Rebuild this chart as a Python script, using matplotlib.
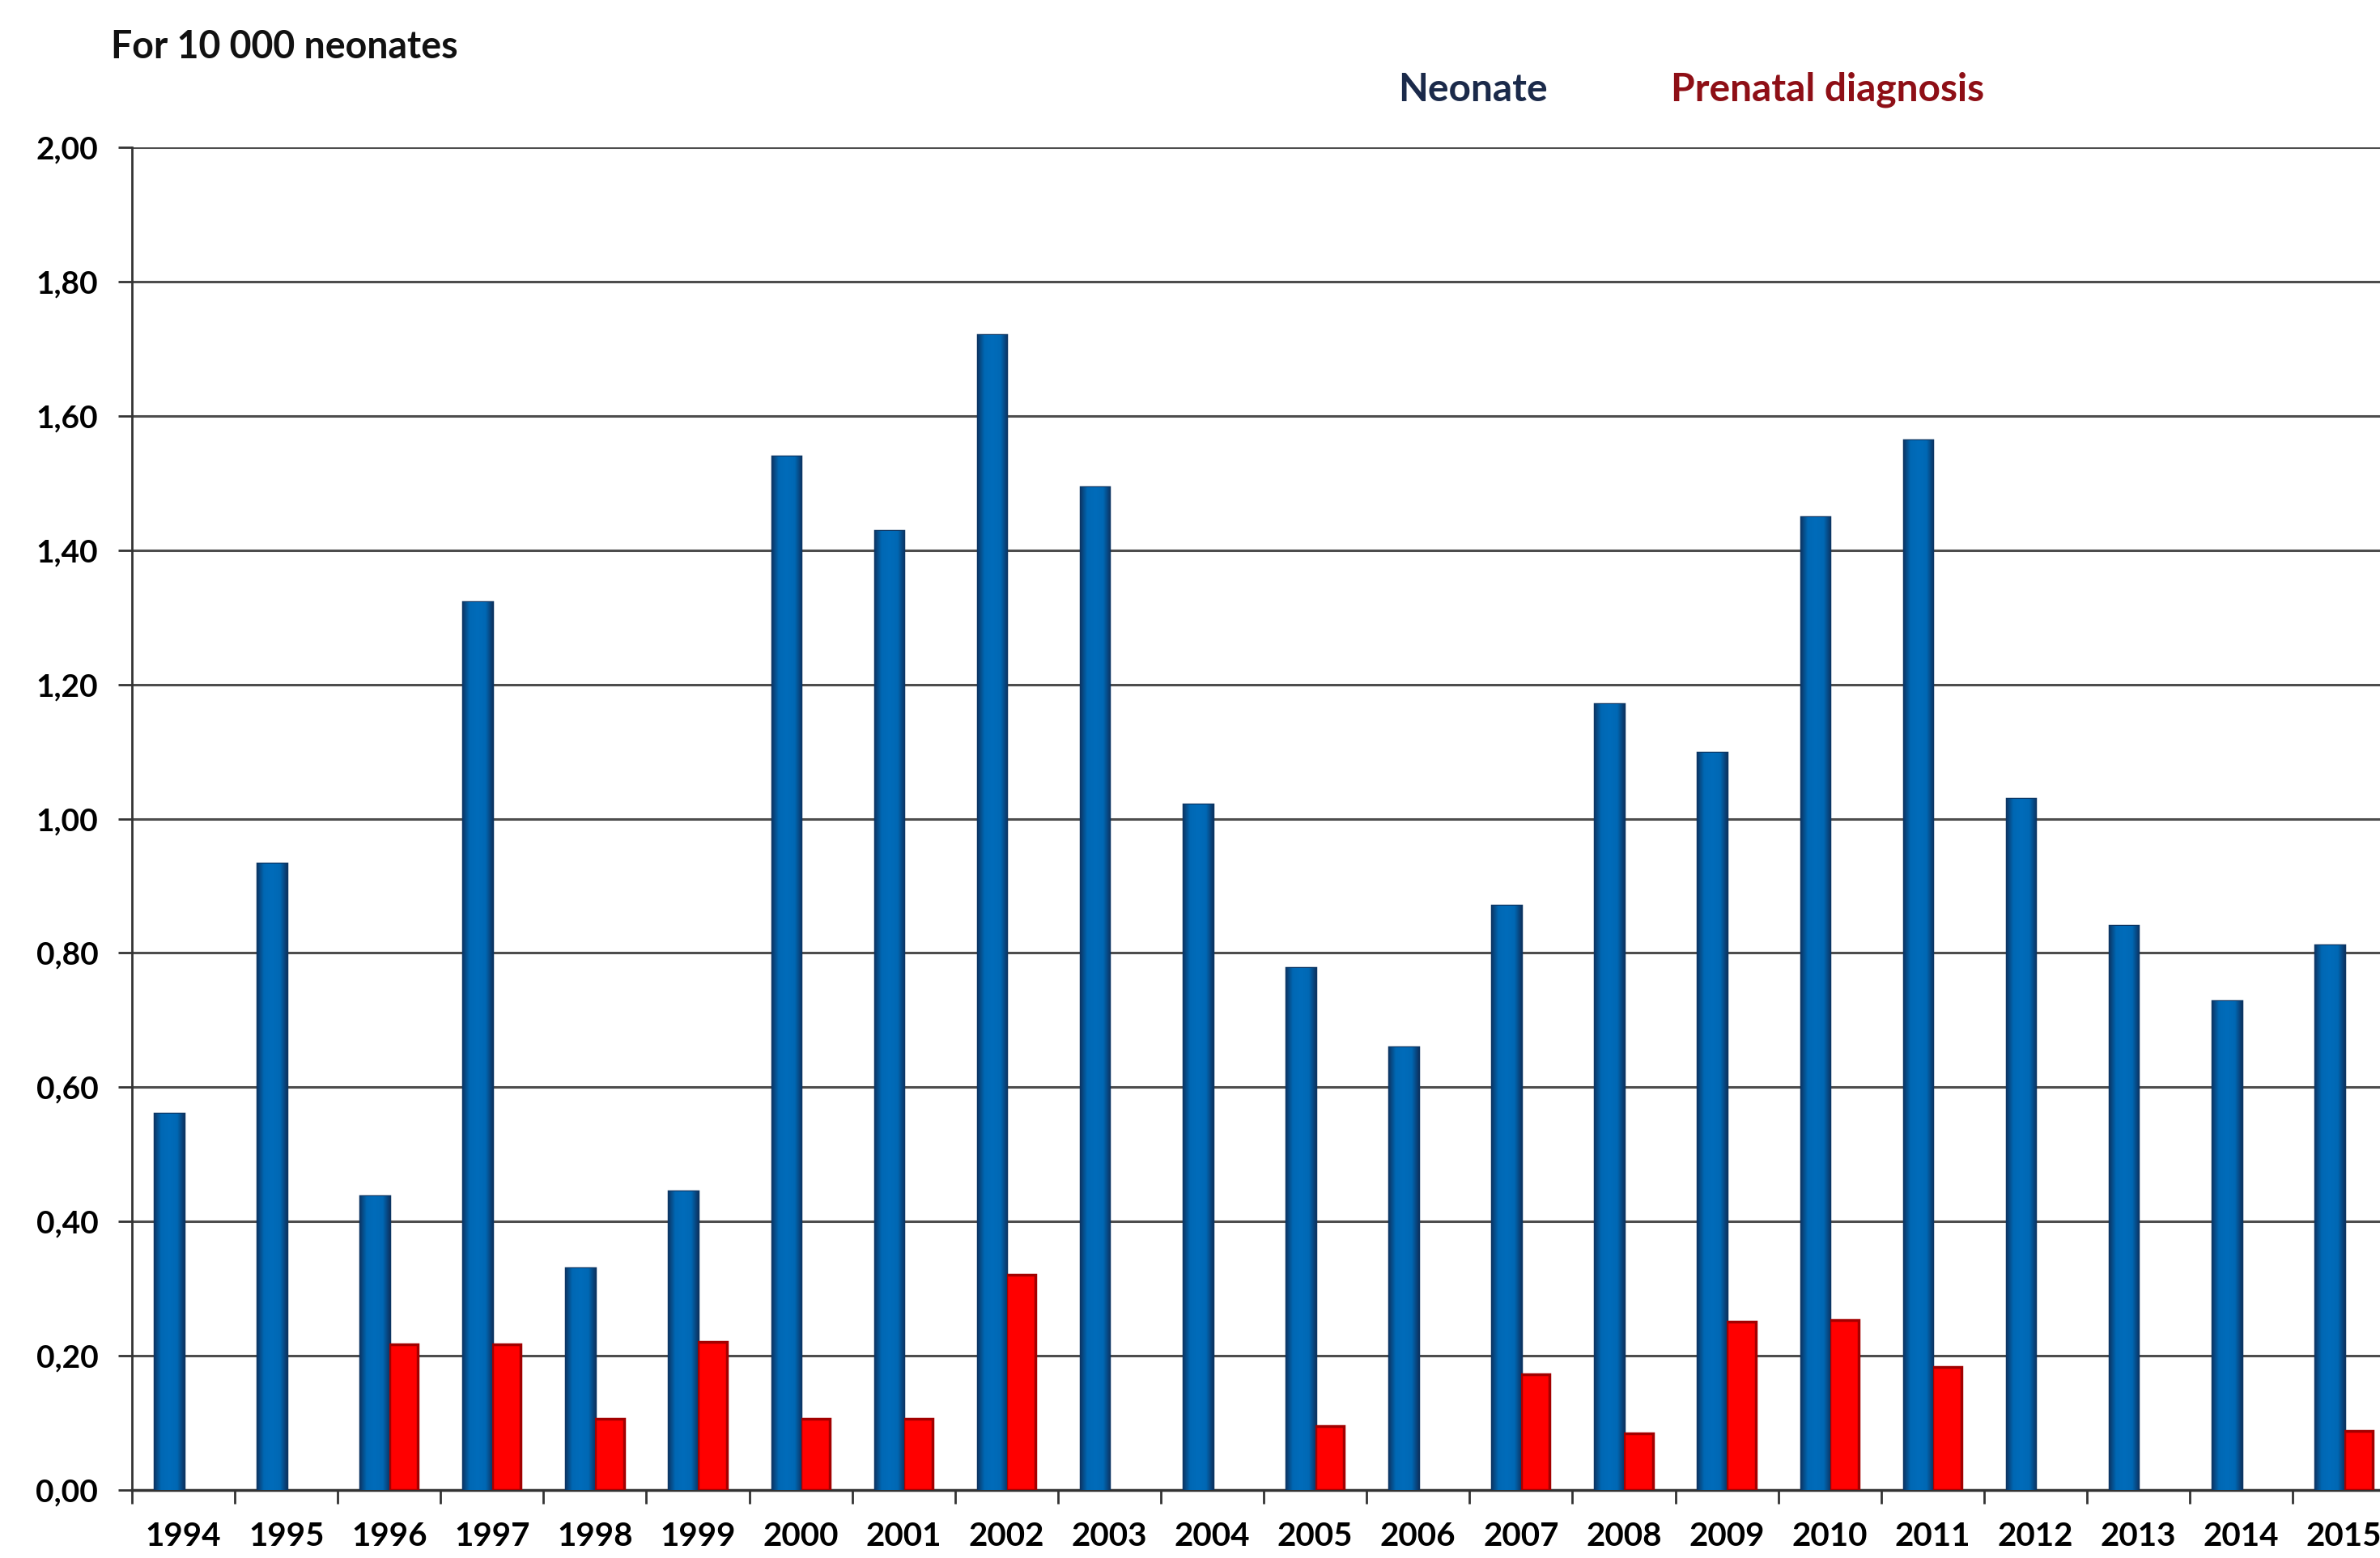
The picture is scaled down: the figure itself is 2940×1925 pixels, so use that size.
import numpy as np
import matplotlib
matplotlib.use("Agg")
import matplotlib.pyplot as plt
from matplotlib.colors import LinearSegmentedColormap

years = [str(y) for y in range(1994, 2016)]
neonate = [0.56, 0.933, 0.438, 1.322, 0.33, 0.445, 1.539, 1.428, 1.72, 1.494, 1.021,
           0.777, 0.66, 0.87, 1.171, 1.098, 1.449, 1.564, 1.03, 0.84, 0.728, 0.811]
prenatal = [0, 0, 0.217, 0.217, 0.106, 0.221, 0.106, 0.106, 0.321, 0, 0,
            0.095, 0, 0.172, 0.084, 0.251, 0.253, 0.183, 0, 0, 0, 0.088]
ytick_vals = [0.0, 0.2, 0.4, 0.6, 0.8, 1.0, 1.2, 1.4, 1.6, 1.8, 2.0]
ytick_labels = ["0,00", "0,20", "0,40", "0,60", "0,80", "1,00", "1,20", "1,40", "1,60", "1,80", "2,00"]

plt.rcParams['font.family'] = ['Lato', 'DejaVu Sans']
plt.rcParams['font.weight'] = 'bold'

fig = plt.figure(figsize=(29.4, 19.25), dpi=100)
W, H = 2940, 1925
left = 163 / W
width = 22 * 127.1 / W
bottom = 1 - 1841 / H
top = 1 - 182 / H
ax = fig.add_axes([left, bottom, width, top - bottom])

x = np.arange(len(years))
bw = 0.28
blue_bars = ax.bar(x - bw / 2, neonate, bw, color='#0068b4', edgecolor='#0b3563',
                   linewidth=2.5, zorder=3)
pre = [v if v > 0 else np.nan for v in prenatal]
red_bars = ax.bar(x + bw / 2, pre, bw, color='#ff0000', edgecolor='#a30000',
                  linewidth=2.5, zorder=3)

# horizontal shading inside the blue bars
cmap = LinearSegmentedColormap.from_list(
    'shade', [(0.0, '#0b3a6c'), (0.22, '#0068b4'), (0.5, '#006cba'),
              (0.78, '#0068b4'), (1.0, '#0b3a6c')])
grad = np.linspace(0, 1, 64).reshape(1, -1)
for p in blue_bars.patches:
    x0, y0 = p.get_x(), p.get_y()
    w, h = p.get_width(), p.get_height()
    im = ax.imshow(grad, cmap=cmap, extent=[x0, x0 + w, y0, y0 + h],
                   aspect='auto', zorder=3.2, interpolation='bilinear')
    im.set_clip_path(p)

ax.set_xlim(-0.5, len(years) - 0.5)
ax.set_ylim(0, 2.0)
ax.set_yticks(ytick_vals)
ax.set_yticklabels(ytick_labels, fontsize=28, fontweight='bold')
ax.yaxis.grid(True, color='#4d4d4d', linewidth=2.2, zorder=0)
ax.set_axisbelow(True)

ax.set_xticks(np.arange(-0.5, len(years), 1.0))
ax.set_xticklabels([])
ax.set_xticks(x, minor=True)
ax.set_xticklabels(years, minor=True, fontsize=29, fontweight='bold')
ax.tick_params(axis='x', which='minor', length=0, pad=28)
ax.tick_params(axis='x', which='major', length=12, width=2, color='#333333', direction='out')
ax.tick_params(axis='y', length=12, width=2, color='#333333', pad=18)

for s in ['top', 'right']:
    ax.spines[s].set_visible(False)
ax.spines['left'].set_color('#333333')
ax.spines['left'].set_linewidth(2)
ax.spines['bottom'].set_color('#333333')
ax.spines['bottom'].set_linewidth(2.5)

fig.text(137 / W, 1 - 58 / H, "For 10 000 neonates", fontsize=33.5, fontweight='bold',
         color='#111111', ha='left', va='center')
fig.text(1727 / W, 1 - 111 / H, "Neonate", fontsize=34.5, fontweight='bold',
         color='#1b2a4a', ha='left', va='center')
fig.text(2064 / W, 1 - 111 / H, "Prenatal diagnosis", fontsize=34.5, fontweight='bold',
         color='#8e0f16', ha='left', va='center')

fig.savefig("out.png", dpi=100)
